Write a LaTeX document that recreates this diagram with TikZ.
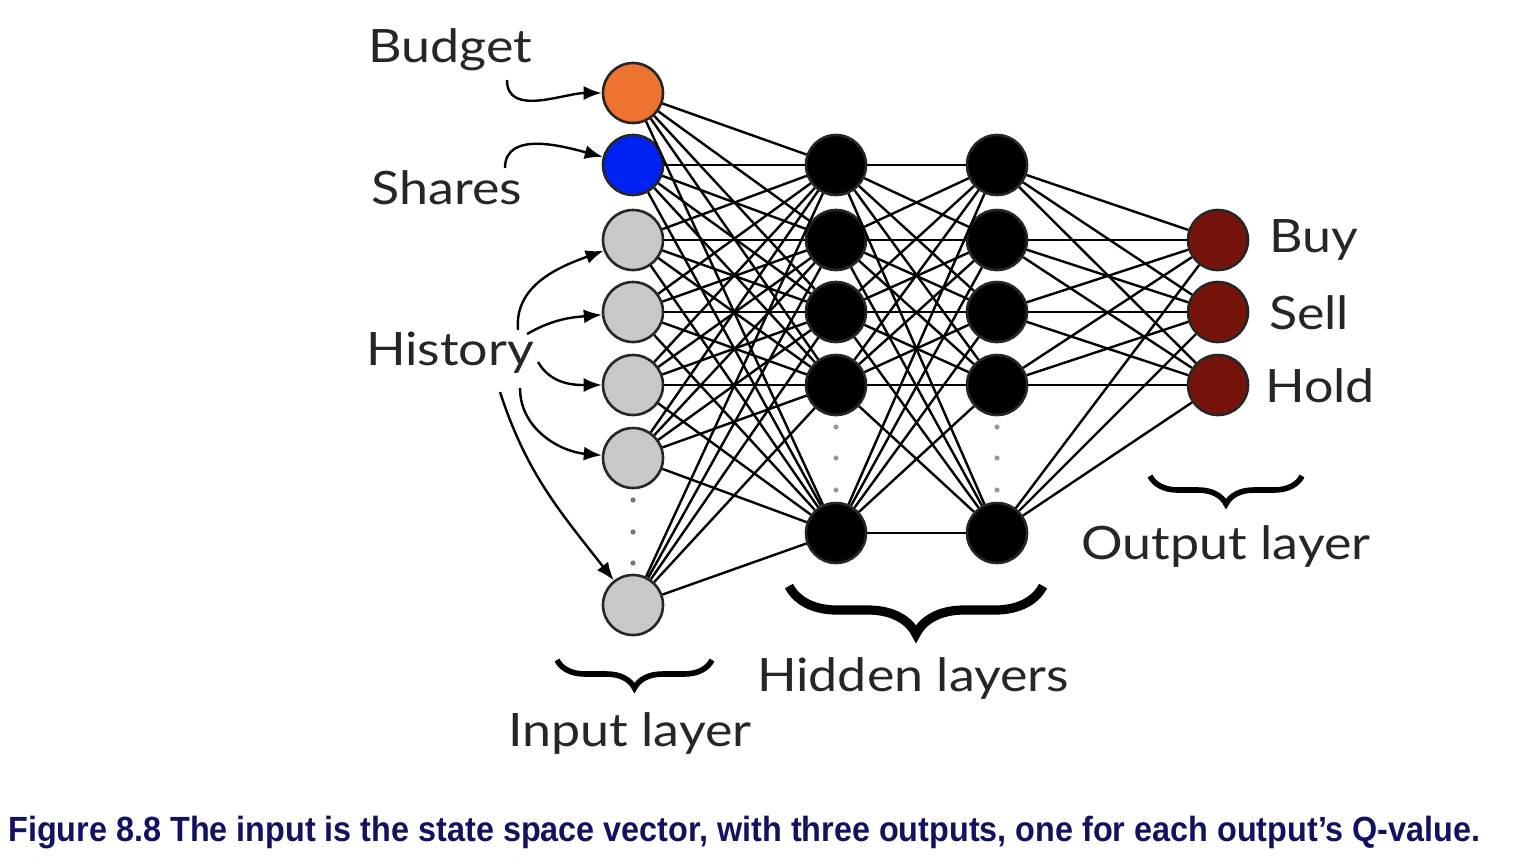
\documentclass[tikz,border=0pt]{standalone}
\usepackage{fontspec}
\setmainfont[FakeStretch=1.13]{Lato}
\newfontfamily\capfont[FakeStretch=0.925]{Liberation Sans}
\usetikzlibrary{arrows.meta,positioning,decorations.pathreplacing,calc}
\definecolor{qorange}{HTML}{EE7230}
\definecolor{qblue}{HTML}{0022F5}
\definecolor{qgray}{HTML}{C8C8C8}
\definecolor{qred}{HTML}{76140C}
\definecolor{capblue}{HTML}{121260}

\begin{document}
\begin{tikzpicture}[
  x=0.5pt, y=0.5pt,
  font=\fontsize{23}{26}\selectfont,
  neuron/.style={circle, draw=black!85, line width=1.3pt, minimum size=30pt, inner sep=0pt},
  hid/.style={neuron, fill=black},
  outp/.style={neuron, fill=qred},
  lbl/.style={text=black!85},
  wire/.style={line width=1.2pt},
  feed/.style={line width=1.2pt, -{Latex[length=9pt,width=7pt]}},
  brc/.style={decorate, decoration={brace, mirror, amplitude=#1}},
]
\useasboundingbox (0,0) rectangle (1514,-864);

% layers
\foreach \n/\y/\c in {1/93/qorange,2/165/qblue,3/240/qgray,4/312/qgray,5/385/qgray,6/458/qgray,7/605/qgray}
  \node[neuron, fill=\c] (i\n) at (633,-\y) {};
\foreach \n/\y in {1/165,2/240,3/312,4/385,5/533} {
  \node[hid] (a\n) at (836,-\y) {};
  \node[hid] (b\n) at (997,-\y) {};
}
\foreach \n/\y in {1/240,2/312,3/385}
  \node[outp] (o\n) at (1218,-\y) {};

% vertical dots
\foreach \y in {500,532,563} \fill[black!55] (633,-\y) circle (1.3pt);
\foreach \y in {427,458,490} {
  \fill[black!40] (836,-\y) circle (1.3pt);
  \fill[black!40] (997,-\y) circle (1.3pt);
}

% weights
\foreach \s in {1,...,7} \foreach \t in {1,...,5} \draw[wire] (i\s) -- (a\t);
\foreach \s in {1,...,5} \foreach \t in {1,...,5} \draw[wire] (a\s) -- (b\t);
\foreach \s in {1,...,5} \foreach \t in {1,2,3} \draw[wire] (b\s) -- (o\t);

% state inputs
\node[lbl] (budget) at (450,-50) {Budget};
\node[lbl] (shares) at (447,-188) {Shares};
\node[lbl] (history) at (450,-353) {History};
\coordinate (bs) at (507,-80);
\coordinate (ss) at (505,-168);
\coordinate (h3) at (518,-330);
\coordinate (h4) at (527,-334);
\coordinate (h5) at (538,-362);
\coordinate (h6) at (520,-388);
\coordinate (h7) at (500,-392);
\draw[feed] (bs) to[out=-90, in=180] (i1);
\draw[feed] (ss) to[out=90, in=165] (i2);
\draw[feed] (h3) to[out=95, in=200] (i3);
\draw[feed] (h4) to[out=30, in=185] (i4);
\draw[feed] (h5) to[out=-60, in=180] (i5);
\draw[feed] (h6) to[out=-90, in=175] (i6);
\draw[feed] (h7) to[out=-72, in=128] (i7);

% outputs
\node[lbl, anchor=west] (buy) at (1262,-240) {Buy};
\node[lbl, anchor=west] (sell) at (1262,-313) {Sell};
\node[lbl, anchor=west] (hold) at (1258,-386) {Hold};

% braces
\draw[brc=14pt, line width=2.8pt] (557,-660) -- (712,-660);
\draw[brc=24pt, line width=4.6pt] (789,-586) -- (1043,-586);
\draw[brc=14pt, line width=2.8pt] (1150,-476) -- (1302,-476);
\node[lbl] (inlab) at (630,-733) {Input layer};
\node[lbl] (hidlab) at (913,-678) {Hidden layers};
\node[lbl] (outlab) at (1226,-546) {Output layer};

% caption
\node[anchor=west, inner sep=0pt, text=capblue, font=\capfont\bfseries\fontsize{17.5}{20}\selectfont] (caption) at (8,-833)
  {Figure 8.8 The input is the state space vector, with three outputs, one for each output’s Q-value.};
\end{tikzpicture}
\end{document}
